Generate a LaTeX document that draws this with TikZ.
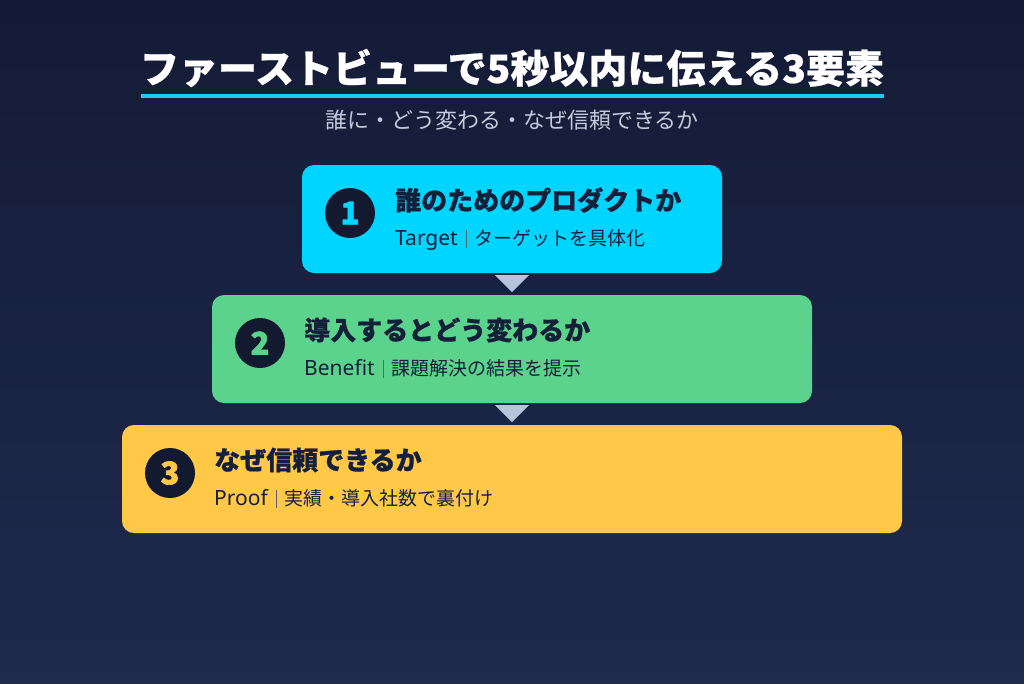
\documentclass[tikz,border=0pt]{standalone}
\usepackage{fontspec}
\setmainfont{Noto Sans CJK JP}[BoldFeatures={FakeBold=0.6}]
\newfontfamily\latinf{Noto Sans}
\newfontfamily\numf{Noto Sans CJK JP}[BoldFeatures={FakeBold=2}]
\definecolor{bgtop}{HTML}{141B36}
\definecolor{bgbot}{HTML}{1E2A4E}
\definecolor{cyanbox}{HTML}{00D5FF}
\definecolor{greenbox}{HTML}{5CD38C}
\definecolor{yellowbox}{HTML}{FFC847}
\definecolor{darkink}{HTML}{14203A}
\definecolor{circ}{HTML}{131A30}
\definecolor{uline}{HTML}{1ECBEF}
\definecolor{subgray}{HTML}{C3CBDD}
\definecolor{arrowc}{HTML}{B8C4DC}
\tikzset{
  card/.style={rounded corners=12pt, minimum height=108pt, inner sep=0pt},
  numcirc/.style={circle, fill=circ, minimum size=50pt, inner sep=0pt, font=\numf\bfseries\fontsize{31}{31}\selectfont},
  cardtitle/.style={anchor=west, inner sep=0pt, text=darkink, font=\bfseries\fontsize{26}{26}\selectfont},
  cardsub/.style={anchor=west, inner sep=0pt, text=darkink, font=\fontsize{19}{19}\selectfont}
}
\newcommand{\lat}[1]{{\latinf\fontsize{21}{21}\selectfont #1}}
\newcommand{\sepbar}{\hspace{8pt}{\color{darkink!70}\rule[-0.12em]{0.7pt}{0.95em}}\hspace{8pt}}
\begin{document}
\begin{tikzpicture}[x=1pt,y=-1pt]
\useasboundingbox (0,0) rectangle (1024,683);
\shade[top color=bgtop, bottom color=bgbot] (0,0) rectangle (1024,683);
% title
\node[text=white, font=\bfseries\fontsize{39}{39}\selectfont, inner sep=0pt] (title) at (512,68) {ファーストビューで5秒以内に伝える3要素};
\coordinate (ulL) at (141,96);
\coordinate (ulR) at (884,96);
\draw[uline, line width=4pt] (ulL) -- (ulR);
\node[text=subgray, font=\fontsize{22}{22}\selectfont, inner sep=0pt] (subtitle) at (512,120) {誰に・どう変わる・なぜ信頼できるか};
% cards
\node[card, fill=cyanbox, minimum width=420pt] (b1) at (512,219) {};
\node[card, fill=greenbox, minimum width=600pt] (b2) at (512,349) {};
\node[card, fill=yellowbox, minimum width=780pt] (b3) at (512,479) {};
% circles
\node[numcirc, text=cyanbox] (c1) at (350,213) {1};
\node[numcirc, text=greenbox] (c2) at (260,343) {2};
\node[numcirc, text=yellowbox] (c3) at (170,473) {3};
% texts
\node[cardtitle] (t1) at (395,200) {誰のためのプロダクトか};
\node[cardsub] (s1) at (395,240) {\lat{Target}\sepbar ターゲットを具体化};
\node[cardtitle] (t2) at (304,330) {導入するとどう変わるか};
\node[cardsub] (s2) at (304,369) {\lat{Benefit}\sepbar 課題解決の結果を提示};
\node[cardtitle] (t3) at (214,460) {なぜ信頼できるか};
\node[cardsub] (s3) at (214,499) {\lat{Proof}\sepbar 実績・導入社数で裏付け};
% arrows
\fill[arrowc] ([xshift=-17pt,yshift=-2pt]b1.south) -- ([xshift=17pt,yshift=-2pt]b1.south) -- ([yshift=-19pt]b1.south) -- cycle;
\fill[arrowc] ([xshift=-17pt,yshift=-2pt]b2.south) -- ([xshift=17pt,yshift=-2pt]b2.south) -- ([yshift=-19pt]b2.south) -- cycle;
\end{tikzpicture}
\end{document}
